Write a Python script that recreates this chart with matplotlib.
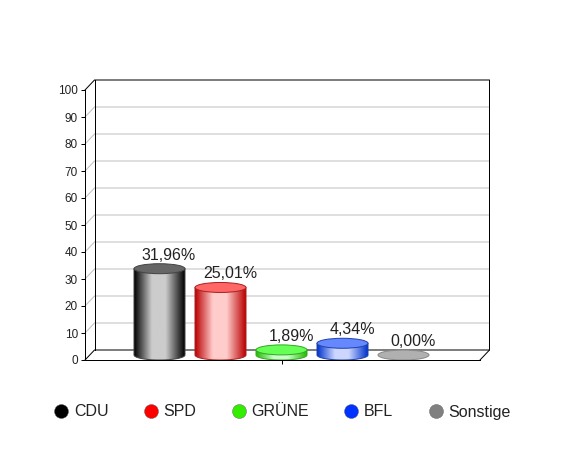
"""Party vote share as a pseudo-3D cylinder chart."""

import numpy as np
import matplotlib
matplotlib.use("Agg")
import matplotlib.pyplot as plt
from matplotlib.colors import to_rgb
from matplotlib.lines import Line2D
from matplotlib.patches import Ellipse, PathPatch
from matplotlib.path import Path

parties = ["CDU", "SPD", "GRÜNE", "BFL", "Sonstige"]
shares = [31.96, 25.01, 1.89, 4.34, 0.00]
share_labels = ["31,96%", "25,01%", "1,89%", "4,34%", "0,00%"]
y_ticks = [0, 10, 20, 30, 40, 50, 60, 70, 80, 90, 100]

legend_colors = ["#000000", "#ff0000", "#33ee00", "#0033ff", "#808080"]
top_colors = ["#666666", "#ff6666", "#66ff55", "#6688ff", "#b0b0b0"]
edge_colors = ["#444444", "#aa2222", "#33aa22", "#2244aa", "#888888"]
# left edge, highlight, right edge of each cylinder body
body_colors = [
    ("#000000", "#cccccc", "#000000"),
    ("#bb0000", "#ffcccc", "#bb0000"),
    ("#22bb00", "#ccffcc", "#22bb00"),
    ("#0033cc", "#ccd6ff", "#0033cc"),
    ("#b0b0b0", "#b0b0b0", "#b0b0b0"),
]

plt.rcParams["font.family"] = ["Liberation Sans", "DejaVu Sans"]
plt.rcParams["axes.linewidth"] = 0.72

W, H = 565, 450
PX_X = 61.0  # pixels per category
PX_Y = 2.7  # pixels per percent
DEPTH_X = 9.5 / PX_X
DEPTH_Y = 10 / PX_Y
BAR_W = 51 / PX_X
ELL_H = 10 / PX_Y
X_MIN = 2 - (281.5 - 85) / PX_X
X_MAX = 2 + (480 - 281.5) / PX_X
LW = 0.72  # one pixel at 100 dpi
TEXT_COLOR = "#222222"


def draw_back_wall(ax):
    for tick in y_ticks[1:-1]:
        ax.plot([X_MIN, X_MIN + DEPTH_X, X_MAX + DEPTH_X],
                [tick, tick + DEPTH_Y, tick + DEPTH_Y],
                color="#c0c0c0", lw=LW, clip_on=False, zorder=1)
    ax.plot([X_MIN, X_MIN + DEPTH_X, X_MAX + DEPTH_X, X_MAX + DEPTH_X, X_MAX],
            [100, 100 + DEPTH_Y, 100 + DEPTH_Y, DEPTH_Y, 0],
            color="black", lw=LW, clip_on=False, zorder=2)
    ax.plot([X_MIN, X_MIN + DEPTH_X, X_MAX + DEPTH_X],
            [0, DEPTH_Y, DEPTH_Y],
            color="black", lw=LW, clip_on=False, zorder=2)
    ax.plot([X_MIN + DEPTH_X, X_MIN + DEPTH_X], [DEPTH_Y, 100 + DEPTH_Y],
            color="black", lw=LW, clip_on=False, zorder=2)


def draw_cylinder(ax, x, value, body, top, edge):
    base = DEPTH_Y / 2
    left, right = x - BAR_W / 2, x + BAR_W / 2
    t = np.linspace(np.pi, 2 * np.pi, 40)
    xs = x + BAR_W / 2 * np.cos(t)
    ys = base + ELL_H / 2 * np.sin(t)
    verts = np.vstack([
        np.column_stack([xs, ys]),
        [right, base + value],
        [left, base + value],
        [xs[0], ys[0]],
    ])
    shape = Path(verts, closed=True)

    if value > 0:
        stops = np.array([to_rgb(c) for c in (body[0], body[1], body[1], body[2])])
        pos = np.linspace(0, 1, 120)
        grad = np.stack(
            [np.interp(pos, [0, 0.35, 0.62, 1], stops[:, i]) for i in range(3)],
            axis=-1,
        )[np.newaxis, :, :]
        im = ax.imshow(grad, extent=[left, right, base - ELL_H / 2, base + value],
                       aspect="auto", zorder=3, interpolation="bilinear")
        patch = PathPatch(shape, fc="none", ec=edge, lw=LW, zorder=4)
        ax.add_patch(patch)
        im.set_clip_path(patch)

    ax.add_patch(Ellipse((x, base + value), BAR_W, ELL_H,
                         fc=top, ec=edge, lw=LW, zorder=5))


fig = plt.figure(figsize=(W / 100, H / 100), dpi=100)
ax = fig.add_axes([85 / W, (H - 360) / H, (480 - 85) / W, 270 / H])

draw_back_wall(ax)

for i, value in enumerate(shares):
    draw_cylinder(ax, i, value, body_colors[i], top_colors[i], edge_colors[i])
    ax.text(i + DEPTH_X, value + DEPTH_Y / 2 + 9 / PX_Y, share_labels[i],
            ha="center", va="baseline", fontsize=11.5, color=TEXT_COLOR, zorder=6)

ax.set_xlim(X_MIN, X_MAX)
ax.set_ylim(0, 100)
ax.set_xticks([2])
ax.set_xticklabels([""])
ax.set_yticks(y_ticks)
ax.tick_params(axis="both", length=3, width=LW, labelsize=8.5, pad=2,
               labelcolor=TEXT_COLOR)
ax.patch.set_visible(False)
for side in ["top", "right"]:
    ax.spines[side].set_visible(False)

handles = [
    Line2D([], [], ls="none", marker="o", ms=10, color=c, mec="#555555", mew=0.3)
    for c in legend_colors
]
fig.legend(handles, parties, loc="center left", ncols=5,
           bbox_to_anchor=(53 / W, (H - 412) / H), frameon=False,
           fontsize=11.5, labelcolor=TEXT_COLOR, handlelength=1,
           handletextpad=0.3, columnspacing=2.15, borderpad=0, borderaxespad=0)

fig.savefig("out.png", dpi=100)
plt.close(fig)
